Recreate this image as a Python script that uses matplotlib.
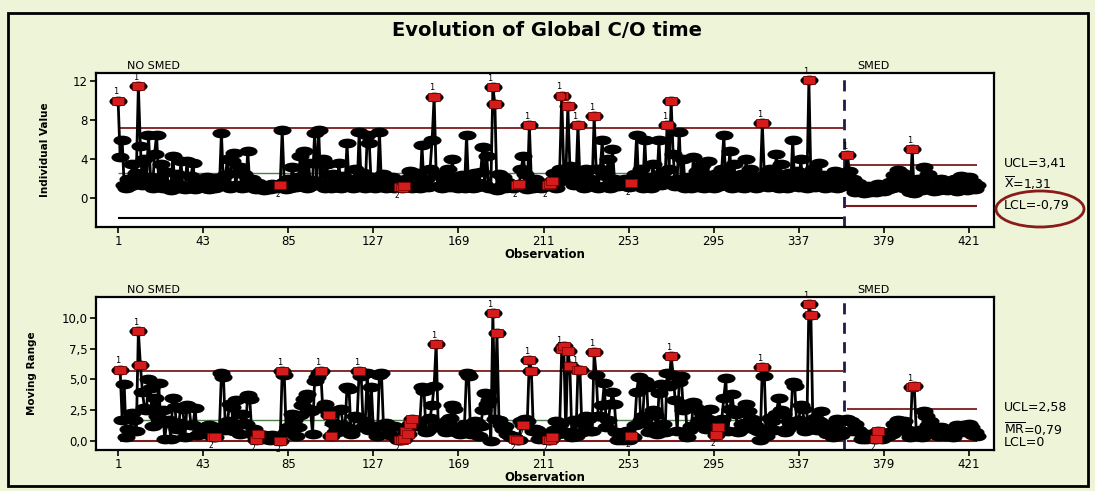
import numpy as np
import matplotlib.pyplot as plt
from matplotlib.markers import MarkerStyle
from matplotlib.transforms import Affine2D
from matplotlib.patches import Rectangle, Ellipse

# ===== Data =====
no_smed = [
    10.0, 4.2, 5.9, 1.3, 1.0, 2.0, 1.2, 3.5, 1.8, 2.6,
    11.5, 5.3, 1.3, 4.0, 1.5, 6.5, 2.2, 1.0, 4.5, 6.5,
    1.8, 3.5, 1.0, 1.2, 2.7, 1.0, 0.8, 4.3, 1.5, 2.5,
    1.0, 3.8, 1.2, 0.9, 3.8, 1.0, 2.3, 3.6, 0.9, 1.4,
    2.0, 1.1, 1.7, 1.0, 2.2, 0.9, 1.6, 1.3, 1.0, 2.1,
    1.2, 6.7, 1.5, 2.4, 4.0, 1.0, 3.8, 4.6, 1.3, 2.6,
    3.2, 1.0, 2.5, 1.1, 4.8, 1.4, 2.0, 1.0, 0.9, 1.5,
    1.1, 1.3, 0.8, 1.2, 1.0, 0.9, 1.4, 1.1, 1.0, 1.3,
    1.3, 7.0, 1.6, 0.9, 2.0, 1.0, 3.2, 1.5, 1.1, 2.2,
    4.3, 1.4, 4.8, 1.0, 3.6, 1.2, 1.8, 6.7, 1.5, 7.0,
    1.3, 4.0, 1.0, 3.5, 1.4, 1.0, 2.5, 1.8, 1.1, 3.6,
    1.0, 2.3, 1.2, 5.6, 1.4, 2.0, 1.0, 3.0, 1.1, 6.8,
    1.5, 2.6, 1.0, 6.5, 5.6, 1.2, 2.2, 1.0, 1.4, 6.8,
    1.3, 2.5, 1.0, 1.6, 1.1, 2.2, 1.0, 1.3, 1.2,
    1.1, 1.0, 1.2, 2.0, 1.4, 2.8, 1.0, 2.3, 1.1, 2.6,
    1.0, 5.4, 1.3, 2.0, 1.1, 3.0, 5.9, 10.4, 2.5, 1.2,
    2.5, 1.0, 2.0, 1.3, 3.0, 1.1, 4.0, 1.4, 2.1, 1.0,
    1.6, 2.4, 1.0, 6.5, 1.2, 1.8, 1.0, 2.6, 1.1, 1.5,
    2.7, 5.2, 1.3, 4.3, 1.0, 1.0, 11.4, 9.6, 0.8, 2.5,
    1.2, 2.2, 1.0, 1.6, 1.1, 1.4, 1.0, 1.2, 1.3, 1.4,
    3.0, 4.3, 2.5, 0.9, 7.5, 1.8, 1.0, 2.0, 1.1, 1.3,
    1.0, 1.5, 1.2, 1.3, 1.4, 1.7, 2.6, 1.0, 1.6,
    3.0, 10.5, 2.8, 2.1, 9.4, 3.3, 3.0, 1.3, 1.7, 7.5,
    1.7, 2.4, 1.0, 3.0, 1.2, 2.0, 1.2, 8.4, 3.0, 1.0,
    3.0, 5.9, 1.2, 2.3, 4.0, 1.0, 5.0, 2.0, 1.3, 1.2,
    1.4, 1.3, 2.0, 1.2, 1.1, 1.5, 1.2, 2.5, 6.5,
    1.3, 3.0, 1.0, 5.9, 1.5, 2.2, 1.0, 3.5, 1.4, 2.0,
    5.9, 1.3, 2.7, 2.0, 7.5, 3.0, 9.9, 4.5, 1.2, 2.0,
    6.8, 1.5, 4.0, 1.0, 1.3, 2.2, 1.0, 4.2, 1.4, 2.8,
    1.1, 3.4, 1.0, 2.0, 3.8, 1.2, 2.4, 1.0, 1.5, 2.6,
    1.2, 3.0, 6.5, 1.4, 2.2, 4.8, 1.0, 3.5, 1.3, 2.0,
    1.1, 2.5, 1.0, 4.0, 1.6, 3.0, 1.2, 2.2, 1.0, 1.8,
    1.7, 7.7, 2.4, 2.0, 1.1, 3.0, 1.4, 2.3, 4.5, 1.0,
    3.5, 1.3, 2.0, 1.0, 2.6, 1.2, 6.0, 1.5, 2.8, 1.1,
    4.0, 1.4, 2.2, 1.0, 12.1, 1.9, 3.0, 1.1, 2.0, 3.6,
    1.2, 2.4, 1.0, 1.6, 2.2, 1.1, 1.4, 2.8, 1.0, 1.5, 2.0, 1.2,
]
smed = [
    2.6, 4.4, 2.8, 1.2, 2.0, 0.6, 1.5, 0.8, 1.0, 0.5,
    0.7, 1.2, 0.6, 1.0, 0.8, 0.6, 1.4, 0.9, 1.1, 0.7,
    1.3, 0.9, 1.6, 1.0, 2.4, 1.2, 2.9, 1.5, 2.6, 1.0,
    1.8, 0.9, 0.6, 5.0, 0.5, 1.3, 2.0, 1.1, 0.8, 3.2,
    1.2, 2.5, 0.9, 1.5, 0.7, 1.2, 0.8, 1.9, 1.0, 1.4,
    0.8, 1.6, 0.9, 1.2, 2.0, 0.7, 1.5, 2.3, 1.0, 1.7,
    0.8, 2.2, 1.1, 1.6, 0.9, 1.3,
]

# control limits: (UCL, centre, LCL)
i_limits = [(7.18, 2.58, -2.02), (3.41, 1.31, -0.79)]
mr_limits = [(5.65, 1.73, 0.0), (2.58, 0.79, 0.0)]

# points flagged by test 2 (observation numbers)
i_test2 = [81, 140, 141, 142, 198, 199, 213, 214, 215, 254]
mr_test2 = [48, 49, 69, 70, 81, 105, 106, 140, 141, 142, 143, 144, 145, 146,
            197, 198, 201, 213, 214, 215, 254, 296, 297, 375, 376]

x_ticks = [1, 43, 85, 127, 169, 211, 253, 295, 337, 379, 421]

# ===== Derived =====
n1 = len(no_smed)
phases = [
    (np.arange(1, n1 + 1), np.array(no_smed)),
    (np.arange(n1 + 1, n1 + len(smed) + 1), np.array(smed)),
]
split = n1 + 0.5

bg = '#edf4d7'
red = '#d41c1c'
limit_col = '#7d1a1a'
centre_col = '#4f7f4f'

ell = MarkerStyle('o', transform=Affine2D().scale(2.0, 1.0))
box = MarkerStyle('s', transform=Affine2D().scale(1.5, 1.0))

fig = plt.figure(figsize=(10.95, 4.91), dpi=100, facecolor=bg)
ax1 = fig.add_axes([0.0877, 0.5377, 0.8201, 0.3136])
ax2 = fig.add_axes([0.0877, 0.0835, 0.8201, 0.3116])


def draw(ax, series, limits, test2, lcl_cols):
    for (x, y), (ucl, cl, lcl), lc in zip(series, limits, lcl_cols):
        ax.plot(x, y, color='black', lw=2, zorder=2)
        ax.plot(x, y, ls='none', marker=ell, ms=6, color='black', zorder=3)
        ax.hlines(ucl, x[0], x[-1], color=limit_col, lw=1.3, zorder=1)
        ax.hlines(cl, x[0], x[-1], color=centre_col, lw=1.0, zorder=1)
        ax.hlines(lcl, x[0], x[-1], color=lc, lw=1.5, zorder=1)
        last1, last2 = -9, -9
        for xi, yi in zip(x, y):
            if yi > ucl:
                ax.plot(xi, yi, marker=box, ms=5.5, color=red, mec='#7a0000',
                        mew=0.5, zorder=4)
                if xi - last1 > 2:
                    ax.annotate('1', (xi, yi), xytext=(-2, 3), textcoords='offset points',
                                fontsize=6, ha='center', va='bottom', zorder=5)
                last1 = xi
            elif xi in test2:
                ax.plot(xi, yi, marker=box, ms=5.5, color=red, mec='#7a0000',
                        mew=0.5, zorder=4)
                if xi - last2 > 2:
                    ax.annotate('2', (xi, yi), xytext=(-2, -3), textcoords='offset points',
                                fontsize=5.5, ha='center', va='top', zorder=5)
                last2 = xi
    ax.axvline(split, color='#1c1c4a', lw=2, ls=(0, (4, 3)), zorder=1)
    ax.set_xlim(-9.9, 433.4)
    ax.set_xticks(x_ticks)
    ax.tick_params(axis='both', labelsize=8.5, length=4, width=1.2, pad=2)
    for s in ax.spines.values():
        s.set_linewidth(1.6)
    ax.set_facecolor('white')
    ax.set_xlabel('Observation', fontsize=8.5, fontweight='bold', labelpad=0)


# individual values
draw(ax1, phases, i_limits, i_test2, ['black', limit_col])
ax1.set_ylim(-2.97, 12.82)
ax1.set_yticks([0, 4, 8, 12])

# moving ranges, computed within each stage
mr_series = [(x[1:], np.abs(np.diff(y))) for x, y in phases]
draw(ax2, mr_series, mr_limits, mr_test2, [limit_col, limit_col])
ax2.set_ylim(-0.73, 11.7)
ax2.set_yticks([0, 2.5, 5, 7.5, 10])
ax2.set_yticklabels(['0,0', '2,5', '5,0', '7,5', '10,0'])

fig.text(45 / 1095, 1 - 150 / 491, 'Individual Value', rotation=90, fontsize=7.5,
         fontweight='bold', ha='center', va='center')
fig.text(32 / 1095, 1 - 373 / 491, 'Moving Range', rotation=90, fontsize=7.5,
         fontweight='bold', ha='center', va='center')

fig.text(0.5, 1 - 31 / 491, 'Evolution of Global C/O time', fontsize=14,
         fontweight='bold', ha='center', va='center')

for yy in (66, 290):
    fig.text(127 / 1095, 1 - yy / 491, 'NO SMED', fontsize=8, ha='left', va='center')
    fig.text(857 / 1095, 1 - yy / 491, 'SMED', fontsize=8, ha='left', va='center')

tx = 1004 / 1095
fig.text(tx, 1 - 164 / 491, 'UCL=3,41', fontsize=9, va='center')
fig.text(tx, 1 - 183 / 491, r'$\overline{\mathrm{X}}$=1,31', fontsize=9, va='center')
fig.text(tx, 1 - 206 / 491, 'LCL=-0,79', fontsize=9, va='center')
fig.text(tx, 1 - 408 / 491, 'UCL=2,58', fontsize=9, va='center')
fig.text(tx, 1 - 429 / 491, r'$\overline{\mathrm{MR}}$=0,79', fontsize=9, va='center')
fig.text(tx, 1 - 443 / 491, 'LCL=0', fontsize=9, va='center')

fig.add_artist(Ellipse((1040 / 1095, 1 - 209 / 491), 88 / 1095, 36 / 491,
                       transform=fig.transFigure, fill=False,
                       edgecolor='#8b1a1a', lw=2))
fig.add_artist(Rectangle((8 / 1095, 5 / 491), 1080 / 1095, 473 / 491,
                         transform=fig.transFigure, fill=False,
                         edgecolor='black', lw=2))

fig.savefig('out.png', dpi=100, facecolor=bg)
